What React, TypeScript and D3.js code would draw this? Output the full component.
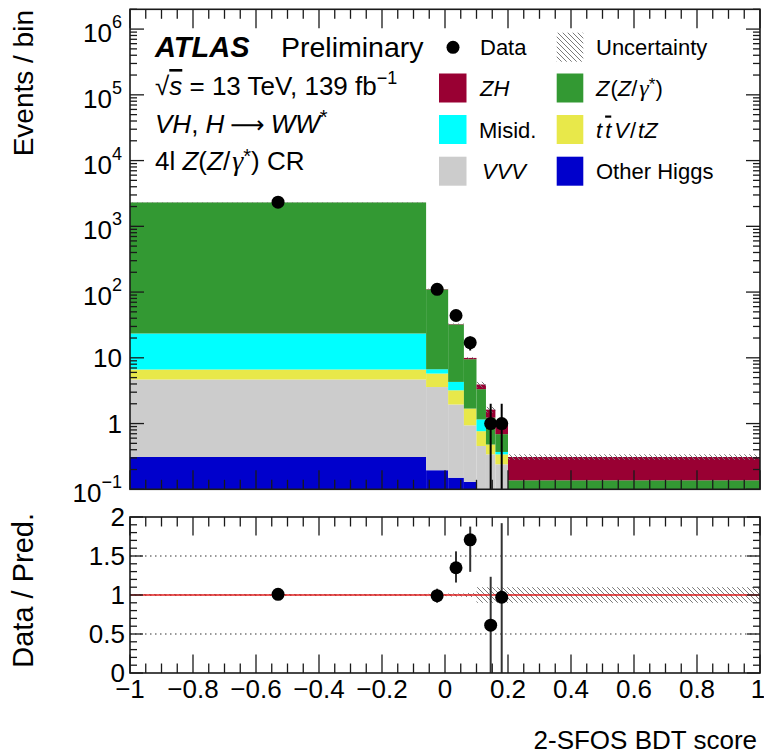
import React from "react";
import * as d3 from "d3";

// Histogram binning of the BDT score
const binEdges = [-1, -0.06, 0.01, 0.06, 0.1, 0.13, 0.16, 0.2, 1.0];

// Observed events per bin
const dataCounts = [2330, 110, 44, 17, 0, 1, 1, 0];

// Predicted yields per process (stacked bottom to top)
const otherHiggs = [0.31, 0.195, 0.15, 0.13, 0, 0, 0, 0];
const vvv = [4.37, 3.4, 1.8, 0.81, 0.456, 0.34, 0.24, 0];
const ttvTz = [1.96, 2.17, 1.26, 0.75, 0.31, 0.14, 0.1, 0];
const misid = [16.8, 0.93, 1.09, 0, 0.39, 0, 0.03, 0];
const zzGamma = [2285, 103, 27.9, 7.83, 2.18, 0.75, 0.32, 0.137];
const zh = [3, 1.3, 0.4, 0.44, 0.59, 0.4, 0.34, 0.173];

// Relative total uncertainty on the prediction
const relUnc = [0.012, 0.015, 0.02, 0.025, 0.1, 0.1, 0.1, 0.1];

// Error bars on the data / prediction ratio
const ratioErrUp = [0.02, 0.09, 0.21, 0.17, 0, 0.62, 0.95, 0];
const ratioErrDown = [0.02, 0.09, 0.19, 0.41, 0, 0.62, 0.97, 0];

const processKeys = ["other", "vvv", "ttv", "misid", "zz", "zh"];
const processColors: Record<string, string> = {
  other: "#0000cc",
  vvv: "#cccccc",
  ttv: "#e8e84a",
  misid: "#00ffff",
  zz: "#339933",
  zh: "#990033",
};

const xTickLabels = ["−1", "−0.8", "−0.6", "−0.4", "−0.2", "0", "0.2", "0.4", "0.6", "0.8", "1"];
const ratioTickLabels = ["0", "0.5", "1", "1.5", "2"];

const FONT = "'Liberation Sans', Arial, Helvetica, sans-serif";
const GREEK = "'Liberation Serif', 'DejaVu Serif', serif";

const W = 764;
const H = 754;
const X0 = 130;
const X1 = 760;
const MAIN_TOP = 9.3;
const MAIN_BOT = 489.3;
const R_TOP = 517;
const R_BOT = 673;

export default function App() {
  const x = d3.scaleLinear().domain([-1, 1]).range([X0, X1]);
  const y = d3.scaleLog().domain([0.1, 2e6]).range([MAIN_BOT, MAIN_TOP]).clamp(true);
  const yr = d3.scaleLinear().domain([0, 2]).range([R_BOT, R_TOP]).clamp(true);

  const nBins = dataCounts.length;
  const rows = d3.range(nBins).map((i) => ({
    other: otherHiggs[i],
    vvv: vvv[i],
    ttv: ttvTz[i],
    misid: misid[i],
    zz: zzGamma[i],
    zh: zh[i],
  }));
  const stacked = d3.stack<any>().keys(processKeys)(rows);
  const totals = rows.map((r) => processKeys.reduce((s, k) => s + (r as any)[k], 0));
  const centers = d3.range(nBins).map((i) => (binEdges[i] + binEdges[i + 1]) / 2);

  // tick positions
  const xMajor = d3.range(0, 11).map((i) => -1 + i * 0.2);
  const xMinor = d3.range(0, 41).map((i) => -1 + i * 0.05);
  const decades = d3.range(-1, 7);
  const logMinor: number[] = [];
  decades.forEach((d) => {
    for (let k = 2; k <= 9; k++) {
      const v = k * Math.pow(10, d);
      if (v <= 2e6) logMinor.push(v);
    }
  });
  const rMajor = [0, 0.5, 1, 1.5, 2];
  const rMinor = d3.range(0, 21).map((i) => i * 0.1);

  const frameStroke = "#1a1a1a";

  const xTicks = (top: number, bot: number, majLen: number, minLen: number, key: string) => (
    <g key={key} stroke={frameStroke} strokeWidth={1.3}>
      {xMinor.map((v, i) => (
        <g key={i}>
          <line x1={x(v)} x2={x(v)} y1={bot} y2={bot - (i % 4 === 0 ? majLen : minLen)} />
          <line x1={x(v)} x2={x(v)} y1={top} y2={top + (i % 4 === 0 ? majLen : minLen)} />
        </g>
      ))}
    </g>
  );

  return (
    <svg
      width={W}
      height={H}
      style={{ position: "absolute", left: 0, top: 0, background: "#fff" }}
      fontFamily={FONT}
    >
      <defs>
        <pattern id="hatch" patternUnits="userSpaceOnUse" width={5} height={5}>
          <path d="M0,0 L5,5 M-1,4 L1,6 M4,-1 L6,1" stroke="#7a7a7a" strokeWidth={1} />
        </pattern>
        <clipPath id="mainClip">
          <rect x={X0} y={MAIN_TOP} width={X1 - X0} height={MAIN_BOT - MAIN_TOP} />
        </clipPath>
        <clipPath id="ratioClip">
          <rect x={X0} y={R_TOP} width={X1 - X0} height={R_BOT - R_TOP} />
        </clipPath>
      </defs>
      <rect width={W} height={H} fill="#fff" />

      {/* ---------- main panel ---------- */}
      <g clipPath="url(#mainClip)">
        {stacked.map((layer) => (
          <g key={layer.key} fill={processColors[layer.key]}>
            {layer.map((seg, i) => {
              const lo = Math.max(seg[0], 0.1);
              const hi = seg[1];
              if (hi <= lo) return null;
              return (
                <rect
                  key={i}
                  x={x(binEdges[i])}
                  width={x(binEdges[i + 1]) - x(binEdges[i])}
                  y={y(hi)}
                  height={y(lo) - y(hi)}
                />
              );
            })}
          </g>
        ))}
        {totals.map((t, i) => (
          <rect
            key={i}
            x={x(binEdges[i])}
            width={x(binEdges[i + 1]) - x(binEdges[i])}
            y={y(t * (1 + relUnc[i]))}
            height={y(t * (1 - relUnc[i])) - y(t * (1 + relUnc[i]))}
            fill="url(#hatch)"
          />
        ))}
        {dataCounts.map((n, i) =>
          n > 0 ? (
            <g key={i}>
              <line
                x1={x(centers[i])}
                x2={x(centers[i])}
                y1={y(n + Math.sqrt(n))}
                y2={y(Math.max(n - Math.sqrt(n), 0.01))}
                stroke="#000"
                strokeWidth={2}
              />
              <circle cx={x(centers[i])} cy={y(n)} r={6.5} fill="#000" />
            </g>
          ) : null
        )}
      </g>

      {/* main panel axes */}
      {xTicks(MAIN_TOP, MAIN_BOT, 19, 9.5, "mx")}
      <g stroke={frameStroke} strokeWidth={1.3}>
        {decades.map((d) => (
          <g key={d}>
            <line x1={X0} x2={X0 + 14} y1={y(Math.pow(10, d))} y2={y(Math.pow(10, d))} />
            <line x1={X1} x2={X1 - 14} y1={y(Math.pow(10, d))} y2={y(Math.pow(10, d))} />
          </g>
        ))}
        {logMinor.map((v, i) => (
          <g key={i}>
            <line x1={X0} x2={X0 + 7} y1={y(v)} y2={y(v)} />
            <line x1={X1} x2={X1 - 7} y1={y(v)} y2={y(v)} />
          </g>
        ))}
      </g>
      <rect
        x={X0}
        y={MAIN_TOP}
        width={X1 - X0}
        height={MAIN_BOT - MAIN_TOP}
        fill="none"
        stroke={frameStroke}
        strokeWidth={1.6}
      />
      <g fontSize={26} fill="#000">
        {decades.map((d) => {
          const yy = y(Math.pow(10, d));
          if (d === 0 || d === 1) {
            return (
              <text key={d} x={122} y={yy + 9} textAnchor="end">
                {d === 0 ? "1" : "10"}
              </text>
            );
          }
          return (
            <text key={d} x={122} y={yy + 13} textAnchor="end">
              10
              <tspan fontSize={18} dy={-14}>
                {d < 0 ? "−" + String(-d) : String(d)}
              </tspan>
            </text>
          );
        })}
      </g>
      <text
        transform="translate(33,10) rotate(-90)"
        textAnchor="end"
        fontSize={28}
        fill="#000"
      >
        Events / bin
      </text>

      {/* labels */}
      <g fill="#000">
        <text x={155} y={57} fontSize={29} fontWeight="bold" fontStyle="italic">
          ATLAS
        </text>
        <text x={281} y={57} fontSize={28.5}>
          Preliminary
        </text>
        <text x={155} y={95} fontSize={26}>
          √<tspan fontStyle="italic" style={{ textDecoration: "overline" }}>s</tspan> = 13 TeV, 139 fb
          <tspan fontSize={18} dy={-11}>−1</tspan>
        </text>
        <text x={155} y={133} fontSize={26}>
          <tspan fontStyle="italic">VH</tspan>, <tspan fontStyle="italic">H</tspan>
          <tspan fontFamily="'DejaVu Sans', sans-serif" fontSize={24} dx={6}>⟶</tspan>
          <tspan fontStyle="italic" dx={6}>WW</tspan>
          <tspan fontSize={20} dy={-9}>*</tspan>
        </text>
        <text x={155} y={170} fontSize={26}>
          4l <tspan fontStyle="italic">Z</tspan>(<tspan fontStyle="italic">Z</tspan>/
          <tspan fontFamily={GREEK} fontStyle="italic" fontSize={28} dx={2}>γ</tspan>
          <tspan fontSize={20} dy={-7}>*</tspan>
          <tspan dy={7}>) CR</tspan>
        </text>
      </g>

      {/* legend */}
      <g fontSize={22} fill="#000">
        <circle cx={453} cy={47.3} r={6.5} fill="#000" />
        <text x={480} y={55.3}>Data</text>
        <rect x={556.7} y={32.7} width={26.6} height={29} fill="url(#hatch)" />
        <text x={596} y={55.3}>Uncertainty</text>

        <rect x={439} y={73.5} width={27.5} height={29} fill={processColors.zh} />
        <text x={480} y={96} fontStyle="italic">ZH</text>
        <rect x={556.7} y={73.5} width={26.6} height={29} fill={processColors.zz} />
        <text x={596} y={96}>
          <tspan fontStyle="italic">Z</tspan>
          <tspan dx={1}>(</tspan>
          <tspan fontStyle="italic">Z</tspan>/
          <tspan fontFamily={GREEK} fontStyle="italic" fontSize={24} dx={2}>γ</tspan>
          <tspan fontSize={17} dy={-6}>*</tspan>
          <tspan dy={6}>)</tspan>
        </text>

        <rect x={439} y={115} width={27.5} height={29} fill={processColors.misid} />
        <text x={479} y={137.5}>Misid.</text>
        <rect x={556.7} y={115} width={26.6} height={29} fill={processColors.ttv} />
        <text x={596} y={137.5} fontStyle="italic">
          t<tspan dx={3} style={{ textDecoration: "overline" }}>t</tspan>
          <tspan dx={3}>V</tspan>
          <tspan fontStyle="normal" dx={1}>/</tspan>
          <tspan dx={2}>tZ</tspan>
        </text>

        <rect x={439} y={156.7} width={27.5} height={29} fill={processColors.vvv} />
        <text x={482} y={179} fontStyle="italic">VVV</text>
        <rect x={556.7} y={156.7} width={26.6} height={29} fill={processColors.other} />
        <text x={596} y={179}>Other Higgs</text>
      </g>

      {/* ---------- ratio panel ---------- */}
      <g clipPath="url(#ratioClip)">
        {[0.5, 1, 1.5].map((v) => (
          <line
            key={v}
            x1={X0}
            x2={X1}
            y1={yr(v)}
            y2={yr(v)}
            stroke="#333"
            strokeWidth={1.2}
            strokeDasharray="1.5,3.5"
          />
        ))}
        {relUnc.map((u, i) => (
          <rect
            key={i}
            x={x(binEdges[i])}
            width={x(binEdges[i + 1]) - x(binEdges[i])}
            y={yr(1 + u)}
            height={yr(1 - u) - yr(1 + u)}
            fill="url(#hatch)"
          />
        ))}
        <line x1={X0} x2={X1} y1={yr(1)} y2={yr(1)} stroke="#e02020" strokeWidth={1.5} />
        {dataCounts.map((n, i) => {
          if (n <= 0) return null;
          const r = n / totals[i];
          return (
            <g key={i}>
              <line
                x1={x(centers[i])}
                x2={x(centers[i])}
                y1={yr(r + ratioErrUp[i])}
                y2={yr(r - ratioErrDown[i])}
                stroke="#333"
                strokeWidth={2}
              />
              <circle cx={x(centers[i])} cy={yr(r)} r={6.5} fill="#000" />
            </g>
          );
        })}
      </g>

      {xTicks(R_TOP, R_BOT, 18.5, 9.5, "rx")}
      <g stroke={frameStroke} strokeWidth={1.3}>
        {rMinor.map((v, i) => {
          const len = i % 5 === 0 ? 13 : 7;
          return (
            <g key={i}>
              <line x1={X0} x2={X0 + len} y1={yr(v)} y2={yr(v)} />
              <line x1={X1} x2={X1 - len} y1={yr(v)} y2={yr(v)} />
            </g>
          );
        })}
      </g>
      <rect
        x={X0}
        y={R_TOP}
        width={X1 - X0}
        height={R_BOT - R_TOP}
        fill="none"
        stroke={frameStroke}
        strokeWidth={1.6}
      />
      <g fontSize={26} fill="#000">
        {rMajor.map((v, i) => (
          <text key={v} x={125} y={yr(v) + 9} textAnchor="end">
            {ratioTickLabels[i]}
          </text>
        ))}
        {xMajor.map((v, i) => (
          <text key={i} x={i === 10 ? x(v) - 2 : x(v)} y={698} textAnchor="middle">
            {xTickLabels[i]}
          </text>
        ))}
      </g>
      <text
        transform="translate(33,513) rotate(-90)"
        textAnchor="end"
        fontSize={29}
        fill="#000"
      >
        Data / Pred.
      </text>
      <text x={757} y={749} textAnchor="end" fontSize={26} fill="#000">
        2-SFOS BDT score
      </text>
    </svg>
  );
}
